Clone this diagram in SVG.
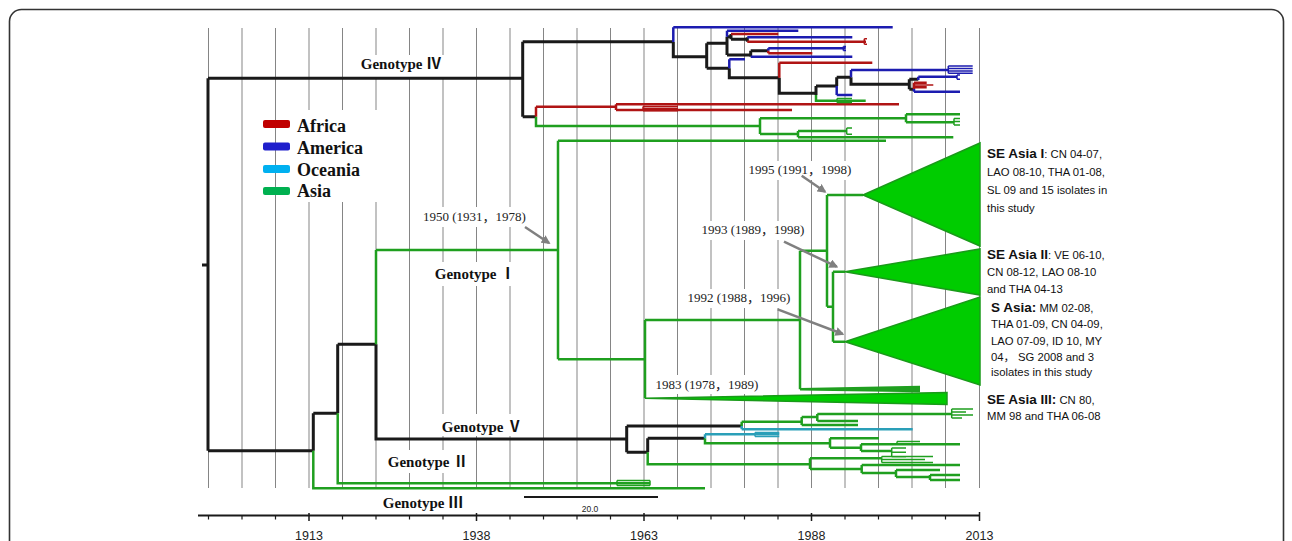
<svg xmlns="http://www.w3.org/2000/svg" width="1292" height="541" viewBox="0 0 1292 541">
<style>
.grid line{stroke:#858585;stroke-width:1}
.bg{fill:#fff}
.k{stroke:#1a1a1a;stroke-width:3;fill:none}
.g{stroke:#1f9f1f;stroke-width:2.5;fill:none}
.b{stroke:#1c1cb0;stroke-width:2.5;fill:none}
.r{stroke:#b01414;stroke-width:2.5;fill:none}
.c{stroke:#2a9fb8;stroke-width:2.5;fill:none}
.thin{stroke-width:1.5}
.tri{fill:#00cc00;stroke:#1a9a1a;stroke-width:1.5}
.gt{font-family:'Liberation Serif','Noto Sans CJK SC',serif;font-weight:bold;font-size:15px;fill:#111;text-anchor:middle}
.dt{font-family:'Liberation Serif','Noto Sans CJK SC',serif;font-size:13px;fill:#222;text-anchor:middle}
.lg{font-family:'Liberation Serif',serif;font-weight:bold;font-size:18px;fill:#111}
.lab{font-family:'Liberation Sans','Noto Sans CJK SC',sans-serif;font-size:11.3px;fill:#111}
.lb{font-weight:bold;font-size:13.5px}
.ax{font-family:'Liberation Sans',sans-serif;font-size:12.5px;fill:#222;text-anchor:middle}
.arr{stroke:#808080;stroke-width:2.5;fill:none;marker-end:url(#ah)}
</style>
<defs>
<marker id="ah" viewBox="0 0 10 10" refX="8" refY="5" markerWidth="9" markerHeight="9" markerUnits="userSpaceOnUse" orient="auto"><path d="M0,0 L10,5 L0,10 z" fill="#808080"/></marker>
</defs>
<rect x="0" y="0" width="1292" height="541" fill="#fff"/>
<rect x="9.5" y="9.5" width="1274" height="560" rx="12" fill="none" stroke="#333" stroke-width="1.6"/>

<g id="grid" class="grid">
<line x1="208.5" y1="28" x2="208.5" y2="488"/><line x1="242" y1="28" x2="242" y2="488"/><line x1="275.5" y1="28" x2="275.5" y2="488"/><line x1="309" y1="28" x2="309" y2="488"/><line x1="342.5" y1="28" x2="342.5" y2="488"/><line x1="376" y1="28" x2="376" y2="488"/><line x1="409.5" y1="28" x2="409.5" y2="488"/><line x1="443" y1="28" x2="443" y2="488"/><line x1="476.5" y1="28" x2="476.5" y2="488"/><line x1="510" y1="28" x2="510" y2="488"/><line x1="543.5" y1="28" x2="543.5" y2="488"/><line x1="577" y1="28" x2="577" y2="488"/><line x1="610.5" y1="28" x2="610.5" y2="488"/><line x1="644" y1="28" x2="644" y2="488"/><line x1="677.5" y1="28" x2="677.5" y2="488"/><line x1="711" y1="28" x2="711" y2="488"/><line x1="744.5" y1="28" x2="744.5" y2="488"/><line x1="778" y1="28" x2="778" y2="488"/><line x1="811.5" y1="28" x2="811.5" y2="488"/><line x1="845" y1="28" x2="845" y2="488"/><line x1="878.5" y1="28" x2="878.5" y2="488"/><line x1="912" y1="28" x2="912" y2="488"/><line x1="945.5" y1="28" x2="945.5" y2="488"/><line x1="979.5" y1="28" x2="979.5" y2="488"/>
</g>
<g id="label-backgrounds" class="bg">
<rect x="360" y="55" width="88" height="22"/>
<rect x="293" y="110" width="100" height="92"/>
<rect x="421" y="207" width="108" height="20"/>
<rect x="433" y="262" width="85" height="24"/>
<rect x="748" y="161" width="106" height="19"/>
<rect x="700" y="221" width="106" height="19"/>
<rect x="686" y="289" width="106" height="19"/>
<rect x="654" y="375" width="106" height="19"/>
<rect x="438" y="414" width="90" height="22"/>
<rect x="385" y="450" width="88" height="23"/>
</g>

<g id="connectors">
<g class="k">
<path d="M202,265H208M208,78.3V450.7M208,78.3H522.7M522.7,41.7V116.7M522.7,41.7H673.3M522.7,116.7H536M673.3,42V56.7H706.7M706.7,43.3V68.3M706.7,43.3H727M706.7,68.3H729.3M727,36.7V55M727,36.7H731M731,34V39.3M731,39.3H747.3M747.3,37.3V41.7M727,55H750.7M750.7,50.7V56.7M750.7,50.7H768.3M729.3,68.3V77.7H779.3M779.3,77.7V93.3H816M816,86V95M816,86H836.7M836.7,77.3V86M836.7,77.3H851M851,77.3V84.3H909.3M909.3,79.3V89.3M909.3,79.3H918.3M909.3,89.3H914"/>
<path d="M208,450.7H313.3M313.3,413.3V450.7M313.3,413.3H337.7M337.7,344.3V413.3M337.7,344.3H376M376,344.3V439H626.7M626.7,426V452.3M626.7,426H741.7M626.7,452.3H647.7M647.7,438.3V452.3M647.7,438.3H705"/>
</g>
<g class="b">
<path d="M673.3,27.3V42M673.3,27.3H892.7M727,30.7V36.7M727,30.7H798.3M747.3,37.3H852.3M750.7,56.7H852.3M768.3,48.3V50.7M768.3,48.3H845.7M729.3,59.3V68.3M729.3,59.3H745M836.7,86V95M836.7,95H852.3M851,70V77.3M851,70H948.3M918.3,76.7V80M918.3,76.7H957M914,89V91.7M914,91.7H960"/>
<path class="thin" d="M843.3,46.5V50.5M843.3,46.5H846M843.3,50.5H846M948.3,66V73.3M948.3,66H972.7M948.3,68.5H972.7M948.3,71H972.7M948.3,73.3H972.7M957,75V79.3M957,75H960M957,79.3H960"/>
</g>
<g class="r">
<path d="M731,34H778.3M747.3,41.7H866M768.3,50.7V53.3M768.3,53.3H812.3M779.3,62.7V77.7M779.3,62.7H872.3M536,106.7V116.7M536,106.7H616M616,104.3V110M616,104.3H899M616,110H792M914,82.7V89M914,82.7H926.7M914,87.3H926.7"/>
<path class="thin" d="M864.3,38.7V44.3M864.3,38.7H867M864.3,44.3H867M643,106.5H678M643,108.5H678M643,110.8H678M643,106.5V110.8M914,85H933.3"/>
</g>
<g class="g">
<path d="M816,95V100.7H865.7M536,116.7V126H760M760,118.3V134M760,118.3H906M906,114.3V122.3M906,114.3H960M906,122.3H954M760,134H798M798,131V137.3M798,131H846.7M798,137.3H953.3"/>
<path class="thin" d="M837,98.5H852M837,102.5H852M837,98.5V102.5M954,118.5V125M954,118.5H960M954,121.5H960M954,125H960M846.7,128V134.3M846.7,128H852M846.7,134.3H852"/>
<path d="M376,250V344.3M376,250H558M558,140.7V359.3M558,140.7H886M558,359.3H645M645,320V398.3M645,320H800M800,250.7V389.3M800,250.7H827M827,195V306.7M827,195H863M827,306.7H833M833,271.7V341.7M833,271.7H845M833,341.7H845"/>
<path d="M647.7,452.3V464.3H810M741.7,421.7V426M741.7,421.7H801.7M801.7,417V425M801.7,417H817.3M801.7,425H858M817.3,414V421M817.3,414H951.7M817.3,421H858M705,438.3V443.3H830M830,438.3V447.7M830,438.3H879M830,447.7H861M861,444.3V451M861,444.3H960M861,451H891.7M810,458.3V469M810,458.3H881.7M810,469H861.7M861.7,465V473M861.7,465H960M861.7,473H896M896,470V477M896,470H940M896,477H930M930,475V480M930,475H960M930,480H960"/>
<path class="thin" d="M951.7,409V418M951.7,409H973M951.7,412H966M951.7,415H973M951.7,418H962M897,441.5H920M897,441.5V444.3M891.7,448V456.7M891.7,448H906M891.7,452.3H906M891.7,456.7H906M881.7,456.5V462.5M881.7,456.5H933M881.7,459.5H925M881.7,462.5H933"/>
<path d="M313.3,450.7V488.3H705M337.7,413.3V483.3H650"/>
<path class="thin" d="M617,480.5H650M617,485.5H650M617,480.5V485.5M650,480.5V485.5"/>
</g>
<g class="c">
<path d="M741.7,426V429.3M741.7,429.3H912.7M705,434.3V438.3M705,434.3H779.3"/>
<path class="thin" d="M755,432.5H779.3M755,436.5H779.3M755,432.5V436.5"/>
</g>
<polygon points="800,388 920,385.8 920,392.2 800,390.5" fill="#1f9f1f"/>
<path class="arr" d="M525,227L549,243"/>
<path class="arr" d="M801.7,175.7L825,191.7"/>
<path class="arr" d="M784,241.7L836.7,266.7"/>
<path class="arr" d="M777.7,309.3L842.7,334"/>
</g>

<g id="clade-se-asia-1">
<polygon class="tri" points="863,195 980,143 980,246"/>
<text class="lab" x="987" y="158"><tspan class="lb">SE Asia I</tspan>: CN 04-07,</text>
<text class="lab" x="987" y="176">LAO 08-10, THA 01-08,</text>
<text class="lab" x="987" y="194">SL 09 and 15 isolates in</text>
<text class="lab" x="987" y="212">this study</text>
</g>
<g id="clade-se-asia-2">
<polygon class="tri" points="845,271.7 980,249 980,295"/>
<text class="lab" x="987" y="259"><tspan class="lb">SE Asia II</tspan>: VE  06-10,</text>
<text class="lab" x="987" y="276">CN 08-12, LAO 08-10</text>
<text class="lab" x="987" y="293">and THA 04-13</text>
</g>
<g id="clade-s-asia">
<polygon class="tri" points="845,341.7 980,297 980,385"/>
<text class="lab" x="991" y="312"><tspan class="lb">S Asia:</tspan> MM 02-08,</text>
<text class="lab" x="991" y="328">THA 01-09, CN 04-09,</text>
<text class="lab" x="991" y="345">LAO 07-09, ID 10, MY</text>
<text class="lab" x="991" y="361">04，  SG 2008 and 3</text>
<text class="lab" x="991" y="376">isolates in this study</text>
</g>
<g id="clade-se-asia-3">
<polygon class="tri" points="645,398.3 947,392.5 947,404.5"/>
<text class="lab" x="987" y="404"><tspan class="lb">SE Asia III:</tspan> CN 80,</text>
<text class="lab" x="987" y="420">MM 98 and THA 06-08</text>
</g>

<g id="genotype-labels">
<text class="gt" x="401" y="69">Genotype Ⅳ</text>
<text class="gt" x="475" y="279">Genotype  Ⅰ</text>
<text class="gt" x="482" y="432">Genotype Ⅴ</text>
<text class="gt" x="428" y="467">Genotype  Ⅱ</text>
<text class="gt" x="423" y="508">Genotype Ⅲ</text>
</g>
<g id="date-labels">
<text class="dt" x="474.5" y="221">1950 (1931，1978)</text>
<text class="dt" x="800" y="174">1995 (1991，1998)</text>
<text class="dt" x="753" y="234">1993 (1989，1998)</text>
<text class="dt" x="739" y="302">1992 (1988，1996)</text>
<text class="dt" x="707" y="389">1983 (1978，1989)</text>
</g>

<g id="legend">
<rect x="263" y="120" width="27" height="8" rx="2" fill="#c00000"/>
<rect x="263" y="142.5" width="27" height="8" rx="2" fill="#1f1fcc"/>
<rect x="263" y="165" width="27" height="8" rx="2" fill="#00b0f0"/>
<rect x="263" y="187" width="27" height="8" rx="2" fill="#00b050"/>
<text class="lg" x="297" y="131.5">Africa</text>
<text class="lg" x="297" y="153.5">America</text>
<text class="lg" x="297" y="175.5">Oceania</text>
<text class="lg" x="297" y="197">Asia</text>
</g>

<g id="scale-bar">
<line x1="524" y1="497" x2="658" y2="497" stroke="#1a1a1a" stroke-width="2"/>
<text x="590" y="512" font-family="'Liberation Sans',sans-serif" font-size="8.5" fill="#222" text-anchor="middle">20.0</text>
</g>

<g id="axis">
<path d="M198,515.5H980" stroke="#1a1a1a" stroke-width="2" fill="none"/>
<path d="M208.5,515.5v4M242,515.5v4M275.5,515.5v4M342.5,515.5v4M376,515.5v4M409.5,515.5v4M443,515.5v4M510,515.5v4M543.5,515.5v4M577,515.5v4M610.5,515.5v4M677.5,515.5v4M711,515.5v4M744.5,515.5v4M778,515.5v4M845,515.5v4M878.5,515.5v4M912,515.5v4M945.5,515.5v4" stroke="#1a1a1a" stroke-width="1.2" fill="none"/>
<path d="M309,513v8M476.5,513v8M644,513v8M811.5,513v8M979.5,512v9" stroke="#1a1a1a" stroke-width="1.5" fill="none"/>
<text class="ax" x="309" y="540">1913</text>
<text class="ax" x="476.5" y="540">1938</text>
<text class="ax" x="644" y="540">1963</text>
<text class="ax" x="811.5" y="540">1988</text>
<text class="ax" x="979.5" y="540">2013</text>
</g>
</svg>
